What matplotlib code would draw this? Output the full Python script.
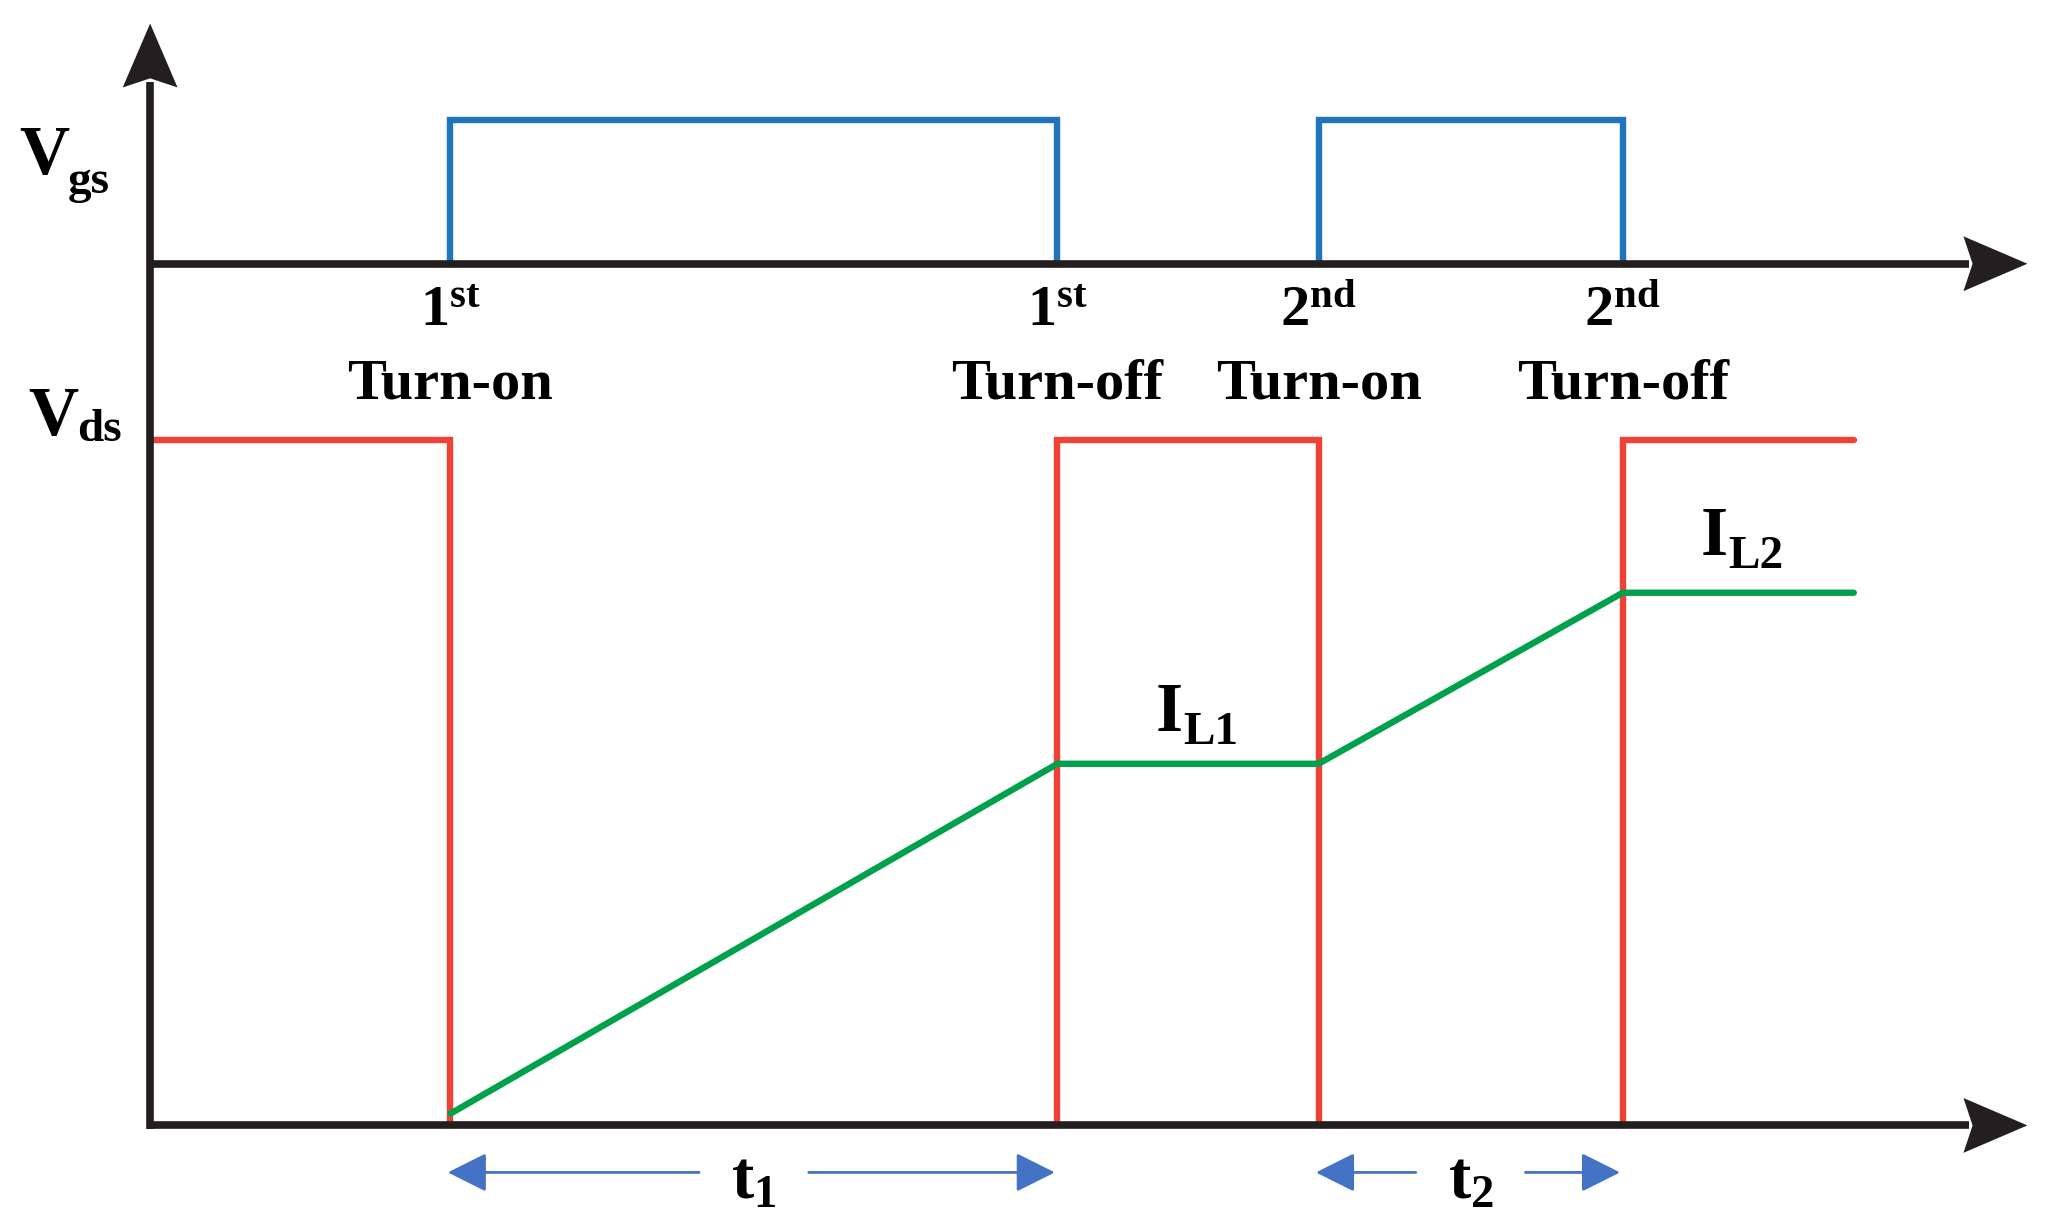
import numpy as np
import matplotlib
matplotlib.use("Agg")
import matplotlib.pyplot as plt
from matplotlib.patches import Polygon

plt.rcParams['font.family'] = ['Liberation Serif', 'DejaVu Serif']
plt.rcParams['font.weight'] = 'bold'
plt.rcParams['mathtext.fontset'] = 'custom'
plt.rcParams['mathtext.rm'] = 'Liberation Serif:bold'
plt.rcParams['mathtext.it'] = 'Liberation Serif:bold'
plt.rcParams['mathtext.bf'] = 'Liberation Serif:bold'

# switching instants (arbitrary time units)
switch_times = [2.30, 6.95, 8.95, 11.28]   # 1st on, 1st off, 2nd on, 2nd off
switch_labels = [r'$1^{st}$', r'$1^{st}$', r'$2^{nd}$', r'$2^{nd}$']
switch_names = ['Turn-on', 'Turn-off', 'Turn-on', 'Turn-off']
t_end = 13.05

# levels (arbitrary units)
vgs_base = 6.60
vgs_high = 7.70
vds_high = 5.25
il_times = [2.30, 6.95, 8.95, 11.28, 13.05]
il_values = [0.09, 2.77, 2.77, 4.08, 4.08]

AXIS = '#231f20'
BLUE = '#1f74bc'
RED = '#ef4136'
GREEN = '#00a14b'
ARROW = '#4472c4'

fig = plt.figure(figsize=(20.47, 12.30), dpi=100)
ax = fig.add_axes([0, 0, 1, 1])
ax.set_xlim(-1.150, 14.53)
ax.set_ylim(-0.801, 8.620)
ax.axis('off')


def stealth(tip, direction, length=0.49, width=0.42, notch=0.07):
    tip = np.array(tip, float)
    d = np.array(direction, float)
    n = np.array([-d[1], d[0]])
    base = tip - d * length
    pts = [tip, base + n * width / 2, tip - d * (length - notch), base - n * width / 2]
    ax.add_patch(Polygon(pts, closed=True, color=AXIS, zorder=6, lw=0))


def sub_label(x, y, main, sub, dx, dy, size):
    # big letter plus a lowered subscript, like the original drawing
    ax.text(x, y, main, fontsize=size, ha='left', va='baseline')
    ax.text(x + dx, y - dy, sub, fontsize=size * 0.68, ha='left', va='baseline')


lw_axis = 5.5
ax_top = 8.44
ax_right = 14.38
# vertical axis
ax.plot([0, 0], [-0.03, ax_top - 0.45], color=AXIS, lw=lw_axis, solid_capstyle='butt', zorder=5)
stealth((0, ax_top), (0, 1))
# Vgs baseline and time axis
for yb in (vgs_base, 0):
    ax.plot([-0.02, ax_right - 0.45], [yb, yb], color=AXIS, lw=lw_axis, solid_capstyle='butt', zorder=5)
    stealth((ax_right, yb), (1, 0))

lw_sig = 4.6
# gate pulses
for on, off in [(switch_times[0], switch_times[1]), (switch_times[2], switch_times[3])]:
    ax.plot([on, on, off, off], [vgs_base, vgs_high, vgs_high, vgs_base],
            color=BLUE, lw=lw_sig, solid_joinstyle='miter', zorder=3)

# drain-source voltage
vds_x = [0] + [t for t in switch_times for _ in (0, 1)] + [t_end]
vds_state = [1, 1, 0, 0, 1, 1, 0, 0, 1, 1]
vds_y = [vds_high * s for s in vds_state]
ax.plot(vds_x, vds_y, color=RED, lw=lw_sig, solid_joinstyle='miter',
        solid_capstyle='round', zorder=3)

# inductor current
ax.plot(il_times, il_values, color=GREEN, lw=lw_sig, solid_capstyle='round', zorder=4)

fs = 44
sub_label(-1.00, 7.29, 'V', 'gs', 0.37, 0.15, fs + 6)
sub_label(-0.93, 5.29, 'V', 'ds', 0.37, 0.05, fs + 6)
for t, num, name in zip(switch_times, switch_labels, switch_names):
    ax.text(t, 6.12, num, fontsize=fs - 2, ha='center', va='baseline')
    ax.text(t, 5.57, name, fontsize=fs - 2, ha='center', va='baseline')

sub_label(7.70, 3.02, 'I', 'L1', 0.21, 0.10, fs + 6)
sub_label(11.88, 4.37, 'I', 'L2', 0.21, 0.10, fs + 6)

# interval arrows
arrow_y = -0.36
for (a, b), lab in [((switch_times[0], switch_times[1]), r'$t_1$'),
                    ((switch_times[2], switch_times[3]), r'$t_2$')]:
    mid = (a + b) / 2
    for tail, tip in [(mid - 0.42, a - 0.02), (mid + 0.42, b - 0.02)]:
        ax.annotate('', xy=(tip, arrow_y), xytext=(tail, arrow_y),
                    arrowprops=dict(arrowstyle='-|>,head_length=1.1,head_width=0.55',
                                    color=ARROW, lw=2.0, shrinkA=0, shrinkB=0,
                                    mutation_scale=22))
    ax.text(mid, -0.56, lab, fontsize=fs + 4, ha='center', va='baseline')

fig.savefig('out.png', dpi=100, facecolor='white')
